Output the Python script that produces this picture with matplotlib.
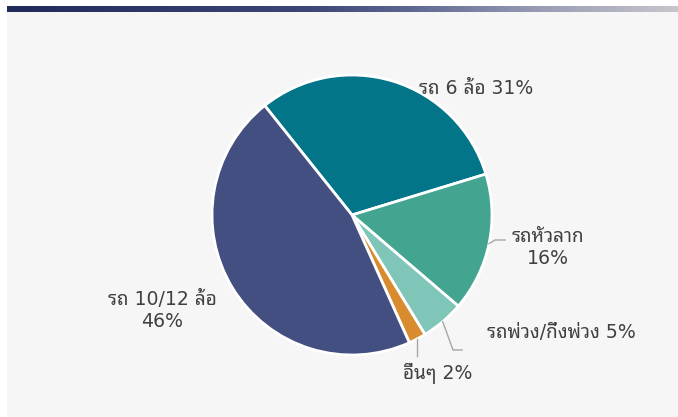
import numpy as np
import matplotlib
matplotlib.use("Agg")
import matplotlib.pyplot as plt
from matplotlib.colors import LinearSegmentedColormap
from matplotlib.patches import Rectangle

# ข้อมูล
labels = ["รถ 6 ล้อ", "รถหัวลาก", "รถพ่วง/กึ่งพ่วง", "อื่นๆ", "รถ 10/12 ล้อ"]
shares = [31, 16, 5, 2, 46]
colors = ["#037588", "#43a590", "#7fc6b9", "#d98c2f", "#434f80"]

plt.rcParams["font.family"] = ["DejaVu Sans", "Noto Sans Thai Looped"]
text_color = "#404040"

W, H = 678, 417
fig = plt.figure(figsize=(W / 100, H / 100), dpi=100, facecolor="white")

# พื้นหลังสีเทาอ่อน + แถบไล่สีด้านบน
fig.patches.append(Rectangle((7 / W, 0), 1 - 7 / W, 1 - 12 / H, transform=fig.transFigure,
                             facecolor="#f6f6f6", edgecolor="none", zorder=-10))
grad = LinearSegmentedColormap.from_list(
    "bar", [(0, "#202b5b"), (0.45, "#3c4778"), (0.6, "#5d6791"), (0.8, "#9a9db5"), (1, "#c6c6cc")])
bar_ax = fig.add_axes([7 / W, 1 - 12 / H, 1 - 7 / W, 6 / H])
bar_ax.imshow(np.linspace(0, 1, 400)[None, :], aspect="auto", cmap=grad)
bar_ax.axis("off")

# วงกลม
cx, cy, r = 352, 215, 140
ax = fig.add_axes([(cx - r) / W, (H - cy - r) / H, 2 * r / W, 2 * r / H])
ax.patch.set_alpha(0)
wedges, _ = ax.pie(shares, colors=colors, startangle=128.6, counterclock=False,
                   wedgeprops=dict(edgecolor="white", linewidth=2))
ax.set_xlim(-1, 1)
ax.set_ylim(-1, 1)
ax.axis("off")

def edge_point(w):
    a = np.deg2rad((w.theta1 + w.theta2) / 2)
    return np.cos(a), np.sin(a)

def px(x, y):
    return (x - cx) / r, (cy - y) / r

fs = 13.6
# รถ 6 ล้อ
ax.text(*px(476, 88), f"{labels[0]} {shares[0]}%", ha="center", va="center",
        fontsize=fs, color=text_color)
# รถหัวลาก
ax.text(*px(548, 247), f"{labels[1]}\n{shares[1]}%", ha="center", va="center",
        fontsize=fs, color=text_color, linespacing=1.2)
# รถพ่วง/กึ่งพ่วง
ax.text(*px(561, 333), f"{labels[2]} {shares[2]}%", ha="center", va="center",
        fontsize=fs, color=text_color)
# อื่นๆ
ax.text(*px(438, 373), f"{labels[3]} {shares[3]}%", ha="center", va="center",
        fontsize=fs, color=text_color)
# รถ 10/12 ล้อ
ax.text(*px(162, 310), f"{labels[4]}\n{shares[4]}%", ha="center", va="center",
        fontsize=fs, color=text_color, linespacing=1.2)

# เส้นชี้
lc = "#a6a6a6"
x0, y0 = edge_point(wedges[1])
ex, ey = px(495, 240)
fx, _ = px(505, 240)
ax.plot([x0, ex, fx], [y0, ey, ey], color=lc, lw=1, clip_on=False)
x0, y0 = edge_point(wedges[2])
ex, ey = px(453, 350)
fx, _ = px(462, 350)
ax.plot([x0, ex, fx], [y0, ey, ey], color=lc, lw=1, clip_on=False)
x0, y0 = edge_point(wedges[3])
_, ey = px(0, 356)
ax.plot([x0, x0], [y0, ey], color=lc, lw=1, clip_on=False)

fig.savefig("out.png", dpi=100, facecolor="white")
